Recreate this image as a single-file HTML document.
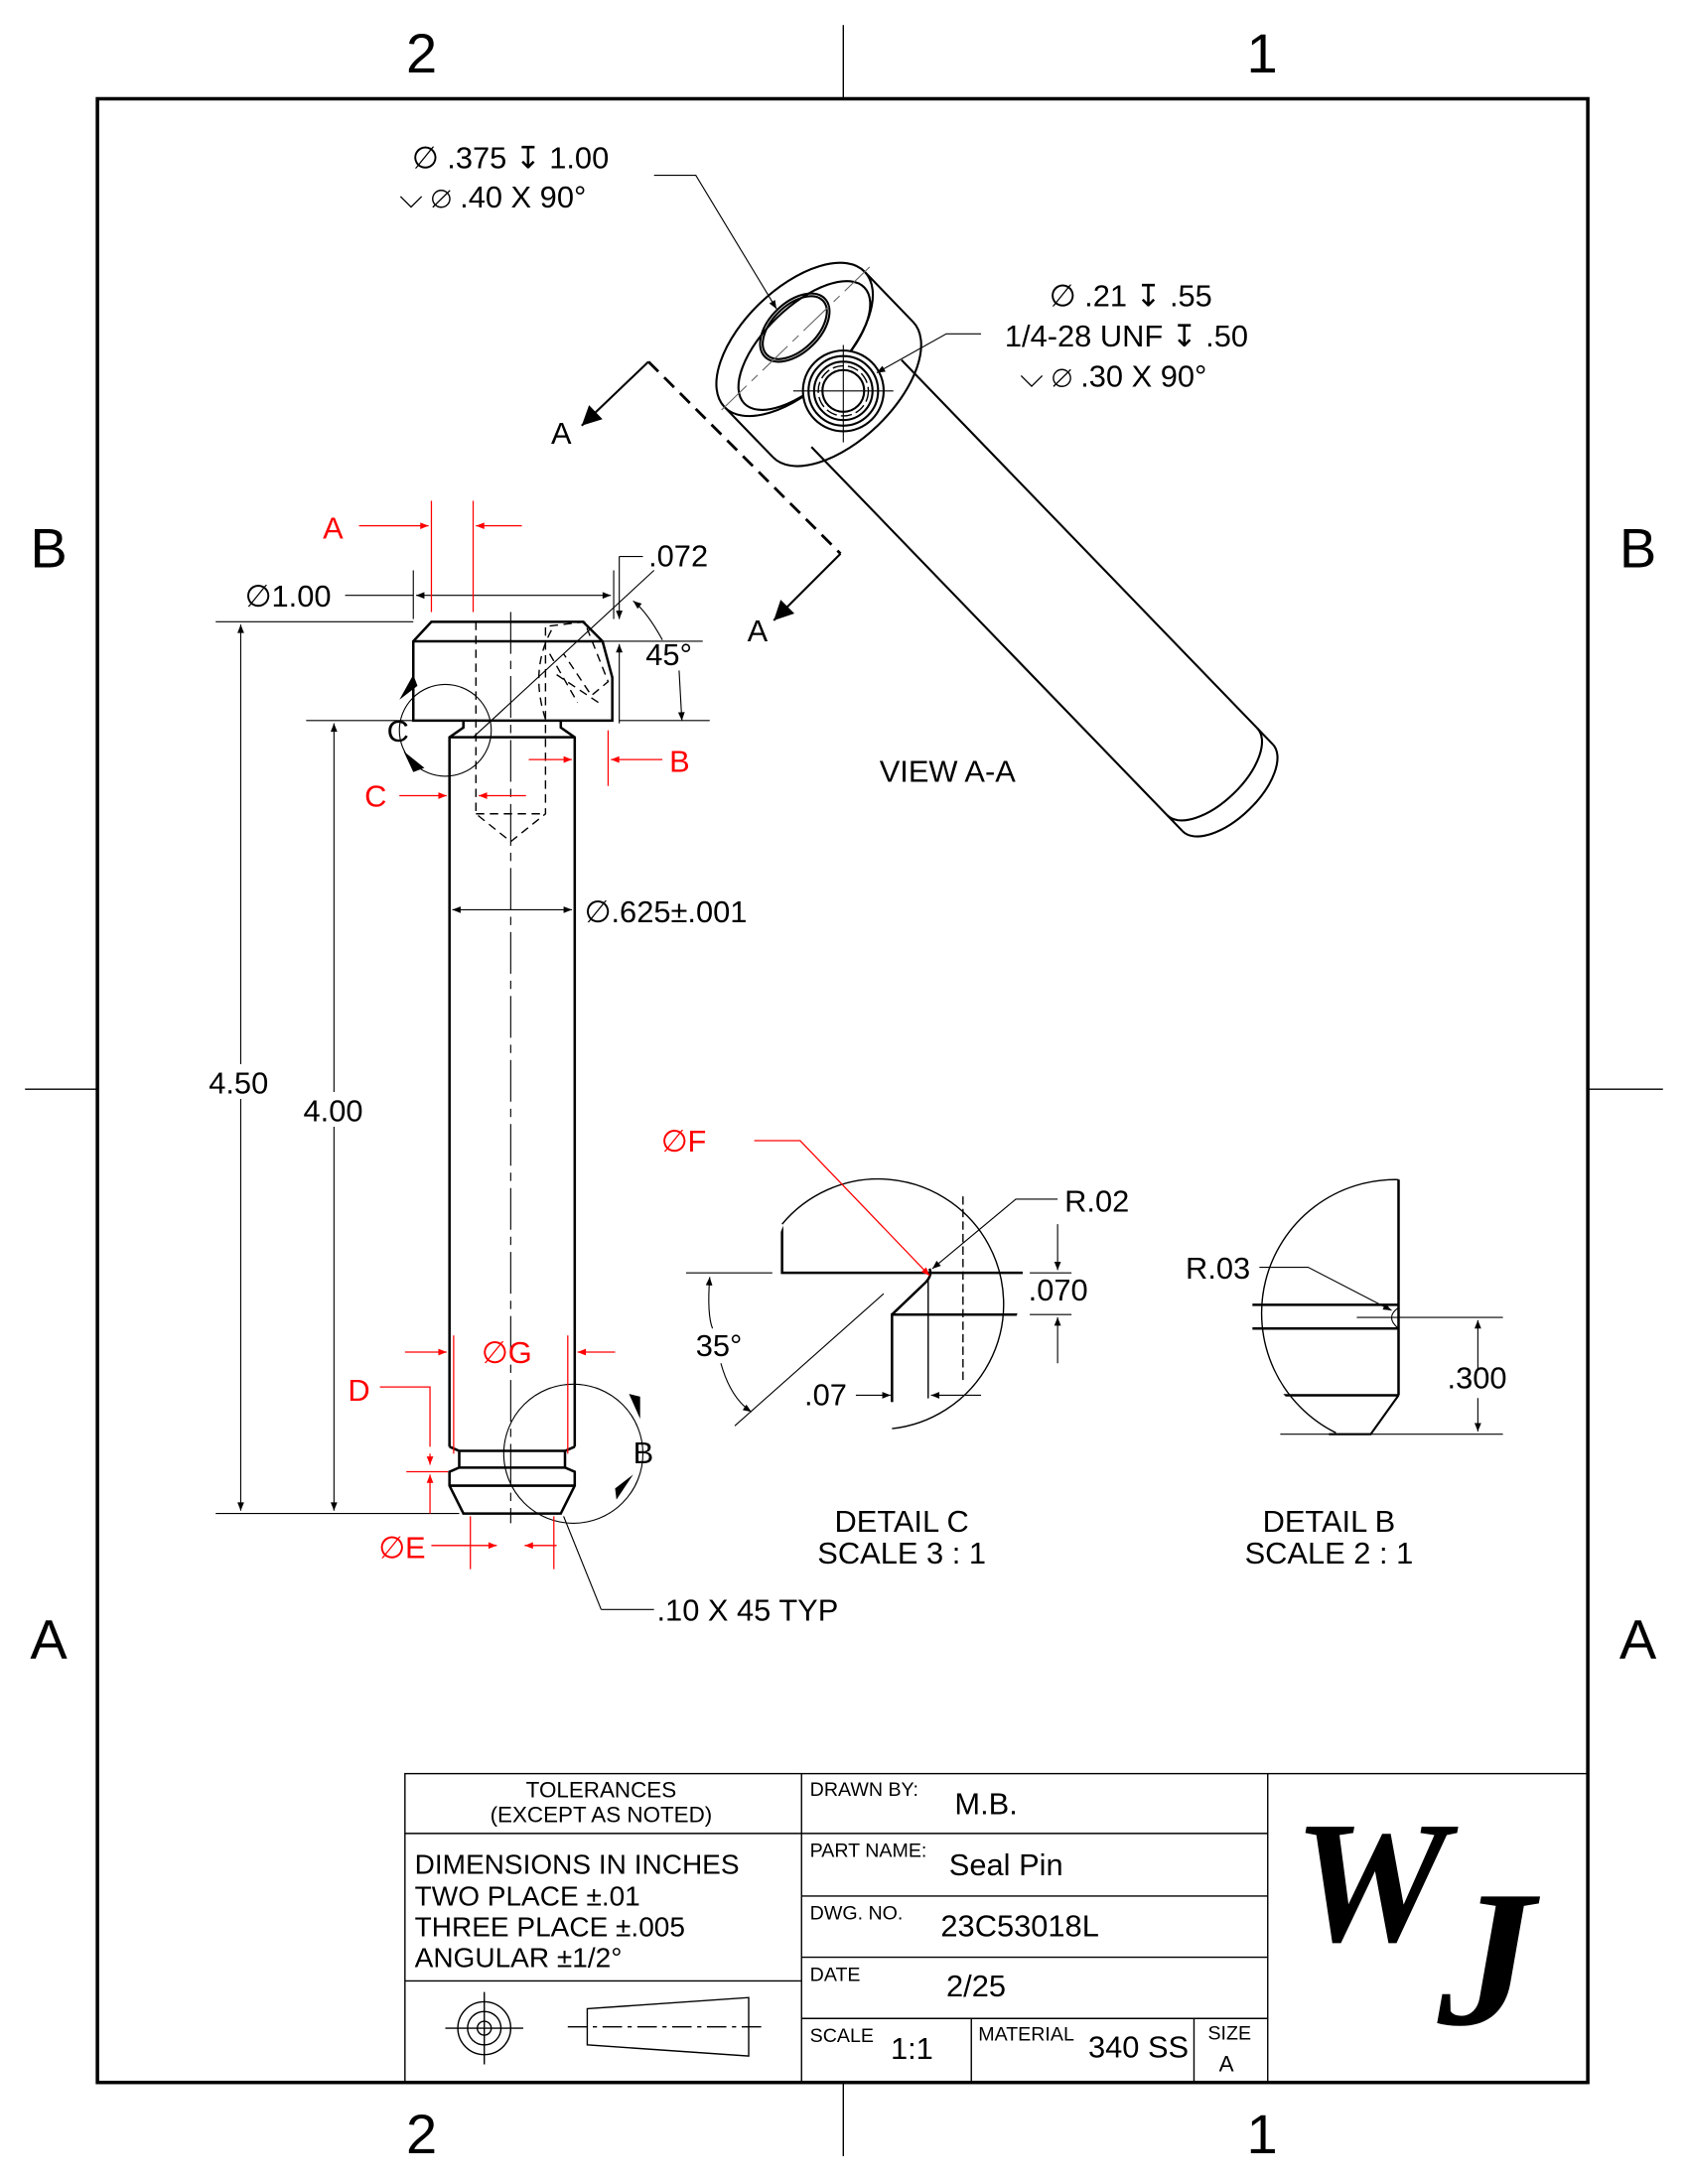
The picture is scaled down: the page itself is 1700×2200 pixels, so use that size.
<!DOCTYPE html>
<html><head><meta charset="utf-8"><style>
html,body{margin:0;padding:0;background:#fff;}
svg{display:block;}
text{font-family:"Liberation Sans",sans-serif;}
.logo{font-family:"Liberation Serif",serif;font-style:italic;font-weight:bold;}
</style></head><body>
<svg width="1700" height="2200" viewBox="0 0 1213 1570" preserveAspectRatio="none" xmlns="http://www.w3.org/2000/svg">
<defs>
<marker id="ab" viewBox="0 0 10 10" refX="10" refY="5" markerWidth="14" markerHeight="6" orient="auto-start-reverse" markerUnits="userSpaceOnUse"><path d="M0,1 L10,5 L0,9 z" fill="#000"/></marker>
<marker id="ar" viewBox="0 0 10 10" refX="10" refY="5" markerWidth="14" markerHeight="6" orient="auto-start-reverse" markerUnits="userSpaceOnUse"><path d="M0,1 L10,5 L0,9 z" fill="#f00"/></marker>
<marker id="abig" viewBox="0 0 10 10" refX="10" refY="5" markerWidth="30" markerHeight="14" orient="auto" markerUnits="userSpaceOnUse"><path d="M0,0 L10,5 L0,10 z" fill="#000"/></marker>
<clipPath id="cc"><circle cx="645" cy="918" r="90"/></clipPath>
<clipPath id="cb"><circle cx="990" cy="940" r="92"/></clipPath>
</defs>
<rect width="1213" height="1570" fill="#fff"/>
<g stroke="#000" fill="none">
<rect x="70" y="71" width="1071" height="1426" stroke-width="2.5"/>
<line x1="606" y1="18" x2="606" y2="71"/><line x1="606" y1="1497" x2="606" y2="1550"/>
<line x1="18" y1="783" x2="70" y2="783"/><line x1="1141" y1="783" x2="1195" y2="783"/>
</g>
<g font-size="40" text-anchor="middle">
<text x="303" y="52">2</text><text x="907" y="52">1</text>
<text x="303" y="1548">2</text><text x="907" y="1548">1</text>
<text x="35" y="408">B</text><text x="1177" y="408">B</text>
<text x="35" y="1192">A</text><text x="1177" y="1192">A</text>
</g>

<!-- title block -->
<g stroke="#000" fill="none" stroke-width="1">
<rect x="291" y="1275" width="850" height="222"/>
<line x1="576" y1="1275" x2="576" y2="1497"/><line x1="911" y1="1275" x2="911" y2="1497"/>
<line x1="291" y1="1318" x2="576" y2="1318"/><line x1="291" y1="1424" x2="576" y2="1424"/>
<line x1="576" y1="1318" x2="911" y2="1318"/><line x1="576" y1="1363" x2="911" y2="1363"/>
<line x1="576" y1="1407" x2="911" y2="1407"/><line x1="576" y1="1451" x2="911" y2="1451"/>
<line x1="698" y1="1451" x2="698" y2="1497"/><line x1="858" y1="1451" x2="858" y2="1497"/>
<circle cx="348" cy="1458" r="19"/><circle cx="348" cy="1458" r="12"/><circle cx="348" cy="1458" r="5"/>
<line x1="320" y1="1458" x2="376" y2="1458"/><line x1="348" y1="1432" x2="348" y2="1484"/>
<path d="M422,1444 L538,1436 L538,1478 L422,1470 Z"/><line x1="408" y1="1457" x2="550" y2="1457" stroke-dasharray="14,4,3,4"/>
</g>
<g font-size="16" text-anchor="middle"><text x="432" y="1292">TOLERANCES</text><text x="432" y="1310">(EXCEPT AS NOTED)</text></g>
<g font-size="20"><text x="298" y="1347">DIMENSIONS IN INCHES</text><text x="298" y="1370">TWO PLACE    ±.01</text><text x="298" y="1392">THREE PLACE   ±.005</text><text x="298" y="1414">ANGULAR ±1/2°</text></g>
<g font-size="14"><text x="582" y="1291">DRAWN BY:</text><text x="582" y="1335">PART NAME:</text><text x="582" y="1380">DWG. NO.</text><text x="582" y="1424">DATE</text><text x="582" y="1468">SCALE</text><text x="703" y="1467">MATERIAL</text><text x="868" y="1466">SIZE</text></g>
<g font-size="22"><text x="686" y="1304">M.B.</text><text x="682" y="1348">Seal Pin</text><text x="676" y="1392">23C53018L</text><text x="680" y="1435">2/25</text><text x="640" y="1480">1:1</text><text x="782" y="1479">340 SS</text><text x="876" y="1489" font-size="16">A</text></g>
<text class="logo" x="985" y="1395" font-size="125" text-anchor="middle">W</text>
<text class="logo" x="1068" y="1455" font-size="140" text-anchor="middle">J</text>

<!-- main part -->
<g stroke="#000" fill="none" stroke-width="1.8">
<path d="M297,461 L310,447 L419,447 L433,461 L440,487 L440,518 L297,518 Z"/>
<line x1="297" y1="461" x2="433" y2="461"/>
<path d="M333,518 L333,523 L323,530 L323,1040 M403,518 L403,523 L413,530 L413,1040"/>
<line x1="323" y1="530" x2="413" y2="530"/>
<path d="M323,1040 L330,1043 L330,1055 L323,1058 L323,1068 L333,1088 L403,1088 L413,1068 L413,1058 L406,1055 L406,1043 L413,1040"/>
<line x1="330" y1="1043" x2="406" y2="1043"/><line x1="330" y1="1055" x2="406" y2="1055"/><line x1="323" y1="1068" x2="413" y2="1068"/>
</g>
<g stroke="#000" fill="none" stroke-width="1" stroke-dasharray="6,4">
<path d="M342,447 L342,585 L367,605 L392,585 L392,447"/><line x1="342" y1="585" x2="392" y2="585"/>
<path d="M395,450 L420,447 L437,490 L425,500 L405,470 M400,485 L430,505 M395,470 L415,505 M392,517 Q380,480 398,450"/>
</g>
<line x1="367" y1="440" x2="367" y2="1095" stroke="#000" stroke-width="0.8" stroke-dasharray="30,5,6,5"/>
<line x1="340" y1="530" x2="470" y2="410" stroke="#000" stroke-width="0.8"/>

<!-- black dims -->
<g stroke="#000" stroke-width="0.8" fill="none">
<line x1="155" y1="447" x2="297" y2="447"/><line x1="155" y1="1088" x2="330" y2="1088"/>
<line x1="220" y1="518" x2="297" y2="518"/>
<line x1="173" y1="449" x2="173" y2="765" marker-start="url(#ab)"/><line x1="173" y1="790" x2="173" y2="1086" marker-end="url(#ab)"/>
<line x1="240" y1="520" x2="240" y2="785" marker-start="url(#ab)"/><line x1="240" y1="810" x2="240" y2="1086" marker-end="url(#ab)"/>
<line x1="297" y1="410" x2="297" y2="445"/><line x1="441" y1="410" x2="441" y2="445"/>
<line x1="248" y1="428" x2="297" y2="428"/><line x1="299" y1="428" x2="439" y2="428" marker-start="url(#ab)" marker-end="url(#ab)"/>
<line x1="445" y1="400" x2="462" y2="400"/><line x1="445" y1="400" x2="445" y2="445" marker-end="url(#ab)"/>
<line x1="445" y1="520" x2="445" y2="463" marker-end="url(#ab)"/>
<line x1="433" y1="461" x2="505" y2="461"/><line x1="445" y1="518" x2="510" y2="518"/>
<path d="M476,460 Q465,440 455,432" marker-end="url(#ab)"/><line x1="488" y1="482" x2="490" y2="518" marker-end="url(#ab)"/>
<line x1="325" y1="654" x2="411" y2="654" marker-start="url(#ab)" marker-end="url(#ab)"/>
<circle cx="320" cy="525" r="33"/>
<circle cx="412" cy="1045" r="50"/>
<line x1="405" y1="1090" x2="432" y2="1157"/><line x1="432" y1="1157" x2="470" y2="1157"/>
</g>
<g fill="#000"><path d="M287,503 l10,-18 l3,8 z"/><path d="M290,540 l15,12 l-8,3 z"/><path d="M460,1020 l-8,-18 l8,2 z"/><path d="M455,1060 l-12,18 l-1,-8 z"/></g>
<g font-size="22"><text x="150" y="786">4.50</text><text x="218" y="806">4.00</text><text x="176" y="436">∅1.00</text><text x="466" y="407">.072</text><text x="464" y="478">45°</text><text x="420" y="663">∅.625±.001</text><text x="472" y="1165">.10 X 45 TYP</text><text x="278" y="533">C</text><text x="455" y="1052">B</text></g>

<!-- red -->
<g stroke="#f00" stroke-width="0.9" fill="none">
<line x1="310" y1="360" x2="310" y2="440"/><line x1="340" y1="360" x2="340" y2="440"/>
<line x1="258" y1="378" x2="308" y2="378" marker-end="url(#ar)"/><line x1="375" y1="378" x2="342" y2="378" marker-end="url(#ar)"/>
<line x1="437" y1="525" x2="437" y2="565"/><line x1="476" y1="546" x2="439" y2="546" marker-end="url(#ar)"/><line x1="380" y1="546" x2="411" y2="546" marker-end="url(#ar)"/>
<line x1="287" y1="572" x2="321" y2="572" marker-end="url(#ar)"/><line x1="378" y1="572" x2="344" y2="572" marker-end="url(#ar)"/>
<line x1="291" y1="972" x2="321" y2="972" marker-end="url(#ar)"/><line x1="442" y1="972" x2="415" y2="972" marker-end="url(#ar)"/>
<line x1="326" y1="960" x2="326" y2="1045"/><line x1="408" y1="960" x2="408" y2="1045"/>
<path d="M273,997 L309,997 L309,1040"/><line x1="309" y1="1045" x2="309" y2="1053" marker-end="url(#ar)"/><line x1="309" y1="1088" x2="309" y2="1060" marker-end="url(#ar)"/>
<line x1="292" y1="1058" x2="322" y2="1058"/>
<line x1="338" y1="1090" x2="338" y2="1128"/><line x1="398" y1="1090" x2="398" y2="1128"/>
<line x1="310" y1="1111" x2="357" y2="1111" marker-end="url(#ar)"/><line x1="400" y1="1111" x2="377" y2="1111" marker-end="url(#ar)"/>
</g>
<g font-size="22" fill="#f00"><text x="232" y="387">A</text><text x="481" y="555">B</text><text x="262" y="580">C</text><text x="346" y="980">∅G</text><text x="250" y="1007">D</text><text x="272" y="1120">∅E</text><text x="475" y="828">∅F</text></g>

<!-- View A-A -->
<g stroke="#000" fill="none" stroke-width="1.5">
<g transform="translate(571,244) rotate(46)">
<path d="M50,-70 A36,70 0 0 1 50,70"/>
<line x1="0" y1="-70" x2="50" y2="-70"/><line x1="0" y1="70" x2="50" y2="70"/>
<ellipse cx="0" cy="0" rx="36" ry="70" fill="#fff"/>
<ellipse cx="8" cy="-2" rx="28" ry="60"/>
<path d="M64,-45 L448,-45 M64,45 L448,45"/>
<path d="M432,-45 A22,45 0 0 1 432,45"/>
<path d="M448,-45 A22,45 0 0 1 448,45"/>
<ellipse cx="-6" cy="-6" rx="18" ry="30"/>
<ellipse cx="-6" cy="-6" rx="16" ry="28"/>
<line x1="0" y1="-75" x2="0" y2="75" stroke="#666" stroke-width="0.8" stroke-dasharray="25,5,6,5"/>
</g>
<circle cx="606" cy="281" r="29" fill="#fff"/><circle cx="606" cy="281" r="25"/><circle cx="606" cy="281" r="21"/><circle cx="606" cy="281" r="18" stroke-dasharray="8,3" stroke-width="1"/><circle cx="606" cy="281" r="15"/>
</g>
<g stroke="#000" stroke-width="0.8" fill="none">
<line x1="570" y1="281" x2="642" y2="281"/><line x1="606" y1="248" x2="606" y2="318"/>
<path d="M470,126 L500,126 L558,222" marker-end="url(#ab)"/>
<path d="M705,240 L680,240 L630,268" marker-end="url(#ab)"/>
<path d="M466,260 L604,398" stroke-width="2" stroke-dasharray="10,6"/>
<line x1="466" y1="260" x2="418" y2="306" stroke-width="1.5" marker-end="url(#abig)"/>
<line x1="604" y1="398" x2="556" y2="446" stroke-width="1.5" marker-end="url(#abig)"/>
</g>
<g font-size="22"><text x="296" y="121">∅ .375 ↧ 1.00</text><text x="287" y="149">⌵  ∅ .40 X 90°</text>
<text x="754" y="220">∅ .21 ↧ .55</text><text x="722" y="249">1/4-28 UNF  ↧ .50</text><text x="733" y="278">⌵  ∅ .30 X 90°</text>
<text x="396" y="319">A</text><text x="537" y="461">A</text><text x="632" y="562">VIEW A-A</text></g>

<!-- Detail C -->
<g stroke="#000" fill="none">
<g clip-path="url(#cc)">
<path d="M562,880 L562,915 L760,915" stroke-width="1.8"/>
<path d="M641,1030 L641,945 L760,945" stroke-width="1.8"/>
<path d="M641,945 L665,922 Q670,917 668,912" stroke-width="1.8"/>
<line x1="667" y1="920" x2="667" y2="1030"/><line x1="692" y1="860" x2="692" y2="1030" stroke-dasharray="6,3"/>
</g>
<path d="M562,880 A90,90 0 1 1 641,1027" stroke-width="1"/>
<g stroke-width="0.8">
<line x1="493" y1="915" x2="555" y2="915"/>
<line x1="528" y1="1025" x2="635" y2="930"/>
<path d="M510,918 Q508,945 512,955" marker-start="url(#ab)"/><path d="M518,980 Q525,1005 540,1015" marker-end="url(#ab)"/>
<line x1="615" y1="1003" x2="640" y2="1003" marker-end="url(#ab)"/><line x1="705" y1="1003" x2="669" y2="1003" marker-end="url(#ab)"/>
<line x1="740" y1="915" x2="770" y2="915"/><line x1="740" y1="945" x2="770" y2="945"/>
<line x1="760" y1="880" x2="760" y2="913" marker-end="url(#ab)"/><line x1="760" y1="980" x2="760" y2="947" marker-end="url(#ab)"/>
<path d="M760,862 L730,862 L670,912" marker-end="url(#ab)"/>
</g>
<path d="M542,820 L575,820 L668,917" stroke="#f00" stroke-width="0.9" marker-end="url(#ar)"/>
</g>
<g font-size="22"><text x="765" y="871">R.02</text><text x="739" y="935">.070</text><text x="500" y="975">35°</text><text x="578" y="1010">.07</text>
<text x="648" y="1101" text-anchor="middle">DETAIL C</text><text x="648" y="1124" text-anchor="middle">SCALE 3 : 1</text></g>

<!-- Detail B -->
<g stroke="#000" fill="none">
<path d="M1005,848 A96,96 0 0 0 960,1030" stroke-width="1"/>
<g clip-path="url(#cb)">
<line x1="900" y1="938" x2="1005" y2="938" stroke-width="1.8"/><line x1="900" y1="955" x2="1005" y2="955" stroke-width="1.8"/>
<line x1="920" y1="1003" x2="1005" y2="1003" stroke-width="1.8"/>
</g>
<line x1="1005" y1="848" x2="1005" y2="1003" stroke-width="1.8"/>
<path d="M1005,1003 L985,1031 L955,1031" stroke-width="1.5"/>
<path d="M1005,940 Q995,947 1005,955" stroke-width="0.8"/>
<g stroke-width="0.8">
<line x1="920" y1="1031" x2="1080" y2="1031"/><line x1="975" y1="947" x2="1080" y2="947"/>
<line x1="1062" y1="985" x2="1062" y2="949" marker-end="url(#ab)"/><line x1="1062" y1="1005" x2="1062" y2="1029" marker-end="url(#ab)"/>
<path d="M905,911 L940,911 L1000,942" marker-end="url(#ab)"/>
</g>
</g>
<g font-size="22"><text x="852" y="919">R.03</text><text x="1040" y="998">.300</text>
<text x="955" y="1101" text-anchor="middle">DETAIL B</text><text x="955" y="1124" text-anchor="middle">SCALE 2 : 1</text></g>
</svg>
</body></html>
